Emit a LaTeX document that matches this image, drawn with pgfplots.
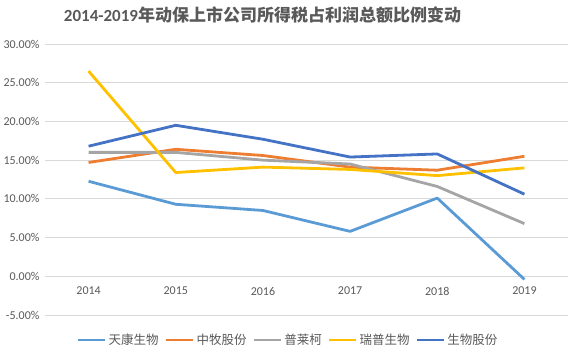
\documentclass[border=0pt]{standalone}
\usepackage{pgfplots}
\pgfplotsset{compat=1.18}
\usepackage{fontspec}
\setmainfont{Carlito}
\newfontfamily\cjk{Noto Sans CJK SC}
\definecolor{cA}{HTML}{5B9BD5}
\definecolor{cB}{HTML}{ED7D31}
\definecolor{cC}{HTML}{A5A5A5}
\definecolor{cD}{HTML}{FFC000}
\definecolor{cE}{HTML}{4472C4}
\definecolor{txt}{HTML}{595959}
\definecolor{grd}{HTML}{D9D9D9}
\begin{document}
\begin{tikzpicture}[x=1pt,y=1pt]
\path[use as bounding box] (0,0) rectangle (578,353);
\node[font=\fontsize{17}{20}\selectfont\bfseries, text=txt, anchor=center] at (262.5,338) {2014-2019{\cjk 年动保上市公司所得税占利润总额比例变动}};
\begin{axis}[
  at={(45pt,38pt)}, anchor=south west,
  width=523pt, height=271pt, scale only axis,
  xmin=-0.5, xmax=5.5, ymin=-5, ymax=30,
  xtick={0,1,2,3,4,5},
  xticklabels={2014,2015,2016,2017,2018,2019},
  ytick={-5,0,5,10,15,20,25,30},
  yticklabels={-5.00\%,0.00\%,5.00\%,10.00\%,15.00\%,20.00\%,25.00\%,30.00\%},
  axis line style={draw=none},
  major tick length=0pt,
  ymajorgrids,
  grid style={color=grd, line width=0.75pt},
  tick label style={font=\fontsize{12}{14}\selectfont, text=txt},
  xticklabel style={anchor=center, yshift=24pt},
  yticklabel style={anchor=east, xshift=-2pt},
  legend columns=5,
  legend style={at={(0.465,-0.0923)}, anchor=center, draw=none, fill=none,
    font=\fontsize{12.5}{14}\selectfont\cjk, text=txt,
    /tikz/every even column/.append style={column sep=4pt}},
  legend image code/.code={\draw[#1] (0pt,0pt) -- (27pt,0pt);},
  every axis plot/.append style={line width=2.8pt, no markers, line join=round},
]
\addplot[color=cA] coordinates {(0,12.27) (1,9.3) (2,8.5) (3,5.8) (4,10.1) (5,-0.4)};
\addlegendentry{天康生物}
\addplot[color=cB] coordinates {(0,14.7) (1,16.4) (2,15.6) (3,14.1) (4,13.7) (5,15.5)};
\addlegendentry{中牧股份}
\addplot[color=cC] coordinates {(0,16.0) (1,16.0) (2,15.0) (3,14.5) (4,11.6) (5,6.8)};
\addlegendentry{普莱柯}
\addplot[color=cD] coordinates {(0,26.5) (1,13.4) (2,14.1) (3,13.8) (4,13.0) (5,14.0)};
\addlegendentry{瑞普生物}
\addplot[color=cE] coordinates {(0,16.8) (1,19.5) (2,17.7) (3,15.4) (4,15.8) (5,10.6)};
\addlegendentry{生物股份}
\end{axis}
\end{tikzpicture}
\end{document}
